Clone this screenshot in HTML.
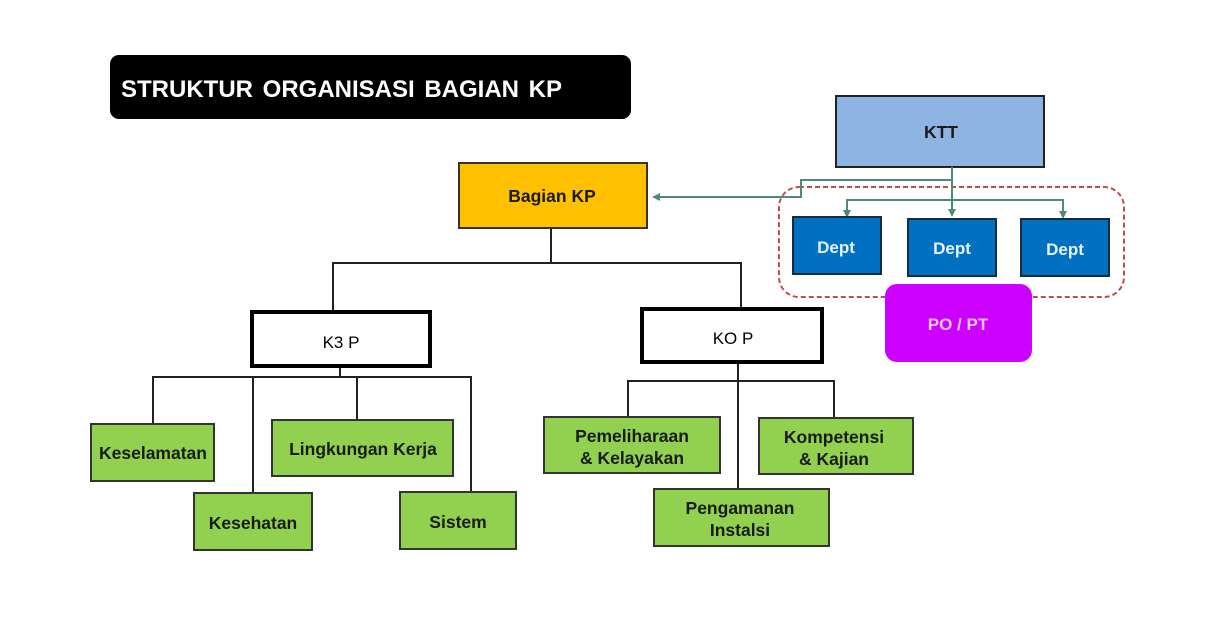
<!DOCTYPE html>
<html><head><meta charset="utf-8"><style>
html,body{margin:0;padding:0;background:#fff;}
svg{display:block;}
text{font-family:"Liberation Sans",Arial,sans-serif;}
.b{font-weight:bold;fill:#1a1a1a;font-size:17.5px;text-anchor:middle;}
.g{fill:#92d050;stroke:#333;stroke-width:2;}
.ln{stroke:#222;stroke-width:2;fill:none;}
.gl{stroke:#4f8a76;stroke-width:2;fill:none;}
.d{fill:#0070c0;stroke:#1a2a40;stroke-width:2;}
.dt{font-weight:bold;fill:#e8f2fb;font-size:17px;text-anchor:middle;}
</style></head><body>
<svg width="1207" height="631" viewBox="0 0 1207 631" xmlns="http://www.w3.org/2000/svg">
<defs><marker id="ar" markerWidth="8" markerHeight="8" refX="6" refY="4" orient="auto" markerUnits="userSpaceOnUse"><path d="M0,0 L8,4 L0,8 z" fill="#4f8a76"/></marker></defs>
<rect x="110" y="55" width="521" height="64" rx="9" fill="#000"/>
<text x="121" y="97" font-size="24" font-weight="bold" fill="#fff" word-spacing="3">STRUKTUR ORGANISASI  BAGIAN  KP</text>

<rect x="779" y="187" width="345" height="110" rx="20" fill="none" stroke="#c0504d" stroke-width="2" stroke-dasharray="5,3"/>

<rect x="836" y="96" width="208" height="71" fill="#8eb4e3" stroke="#222" stroke-width="2"/>
<text x="941" y="138" class="b" font-size="18">KTT</text>

<polyline class="gl" points="952,167 952,180 801,180 801,197 654,197" marker-end="url(#ar)"/>
<line class="gl" x1="952" y1="180" x2="952" y2="215" marker-end="url(#ar)"/>
<polyline class="gl" points="847,215 847,200 1063,200 1063,215" />
<line class="gl" x1="847" y1="205" x2="847" y2="216" marker-end="url(#ar)"/>
<line class="gl" x1="1063" y1="205" x2="1063" y2="217" marker-end="url(#ar)"/>

<rect class="d" x="793" y="217" width="88" height="57"/>
<text class="dt" x="836" y="253">Dept</text>
<rect class="d" x="908" y="219" width="88" height="57"/>
<text class="dt" x="952" y="254">Dept</text>
<rect class="d" x="1021" y="219" width="88" height="57"/>
<text class="dt" x="1065" y="255">Dept</text>

<rect x="885" y="284" width="147" height="78" rx="12" fill="#cc00ff"/>
<text x="958" y="330" font-size="17" font-weight="bold" fill="#f3c8f3" text-anchor="middle">PO / PT</text>

<rect x="459" y="163" width="188" height="65" fill="#ffc000" stroke="#333" stroke-width="2"/>
<text x="552" y="202" class="b">Bagian KP</text>

<polyline class="ln" points="551,228 551,263"/>
<polyline class="ln" points="333,311 333,263 741,263 741,308"/>
<polyline class="ln" points="340,367 340,377"/>
<polyline class="ln" points="153,424 153,377 471,377 471,492"/>
<line class="ln" x1="253" y1="377" x2="253" y2="493"/>
<line class="ln" x1="357" y1="377" x2="357" y2="419"/>
<polyline class="ln" points="738,363 738,489"/>
<polyline class="ln" points="628,417 628,381 834,381 834,417"/>

<rect x="252" y="312" width="178" height="54" fill="#fff" stroke="#000" stroke-width="4"/>
<text x="341" y="348" font-size="17" text-anchor="middle" fill="#000">K3 P</text>
<rect x="642" y="309" width="180" height="53" fill="#fff" stroke="#000" stroke-width="4"/>
<text x="733" y="344" font-size="17" text-anchor="middle" fill="#000">KO P</text>

<rect class="g" x="91" y="424" width="123" height="57"/>
<text class="b" x="153" y="459">Keselamatan</text>
<rect class="g" x="194" y="493" width="118" height="57"/>
<text class="b" x="253" y="529">Kesehatan</text>
<rect class="g" x="272" y="420" width="181" height="56"/>
<text class="b" x="363" y="455">Lingkungan Kerja</text>
<rect class="g" x="400" y="492" width="116" height="57"/>
<text class="b" x="458" y="528">Sistem</text>

<rect class="g" x="544" y="417" width="176" height="56"/>
<text class="b" x="632" y="442">Pemeliharaan</text>
<text class="b" x="632" y="464">&amp; Kelayakan</text>
<rect class="g" x="759" y="418" width="154" height="56"/>
<text class="b" x="834" y="443">Kompetensi</text>
<text class="b" x="834" y="465">&amp;  Kajian</text>
<rect class="g" x="654" y="489" width="175" height="57"/>
<text class="b" x="740" y="514">Pengamanan</text>
<text class="b" x="740" y="536">Instalsi</text>
</svg>
</body></html>
